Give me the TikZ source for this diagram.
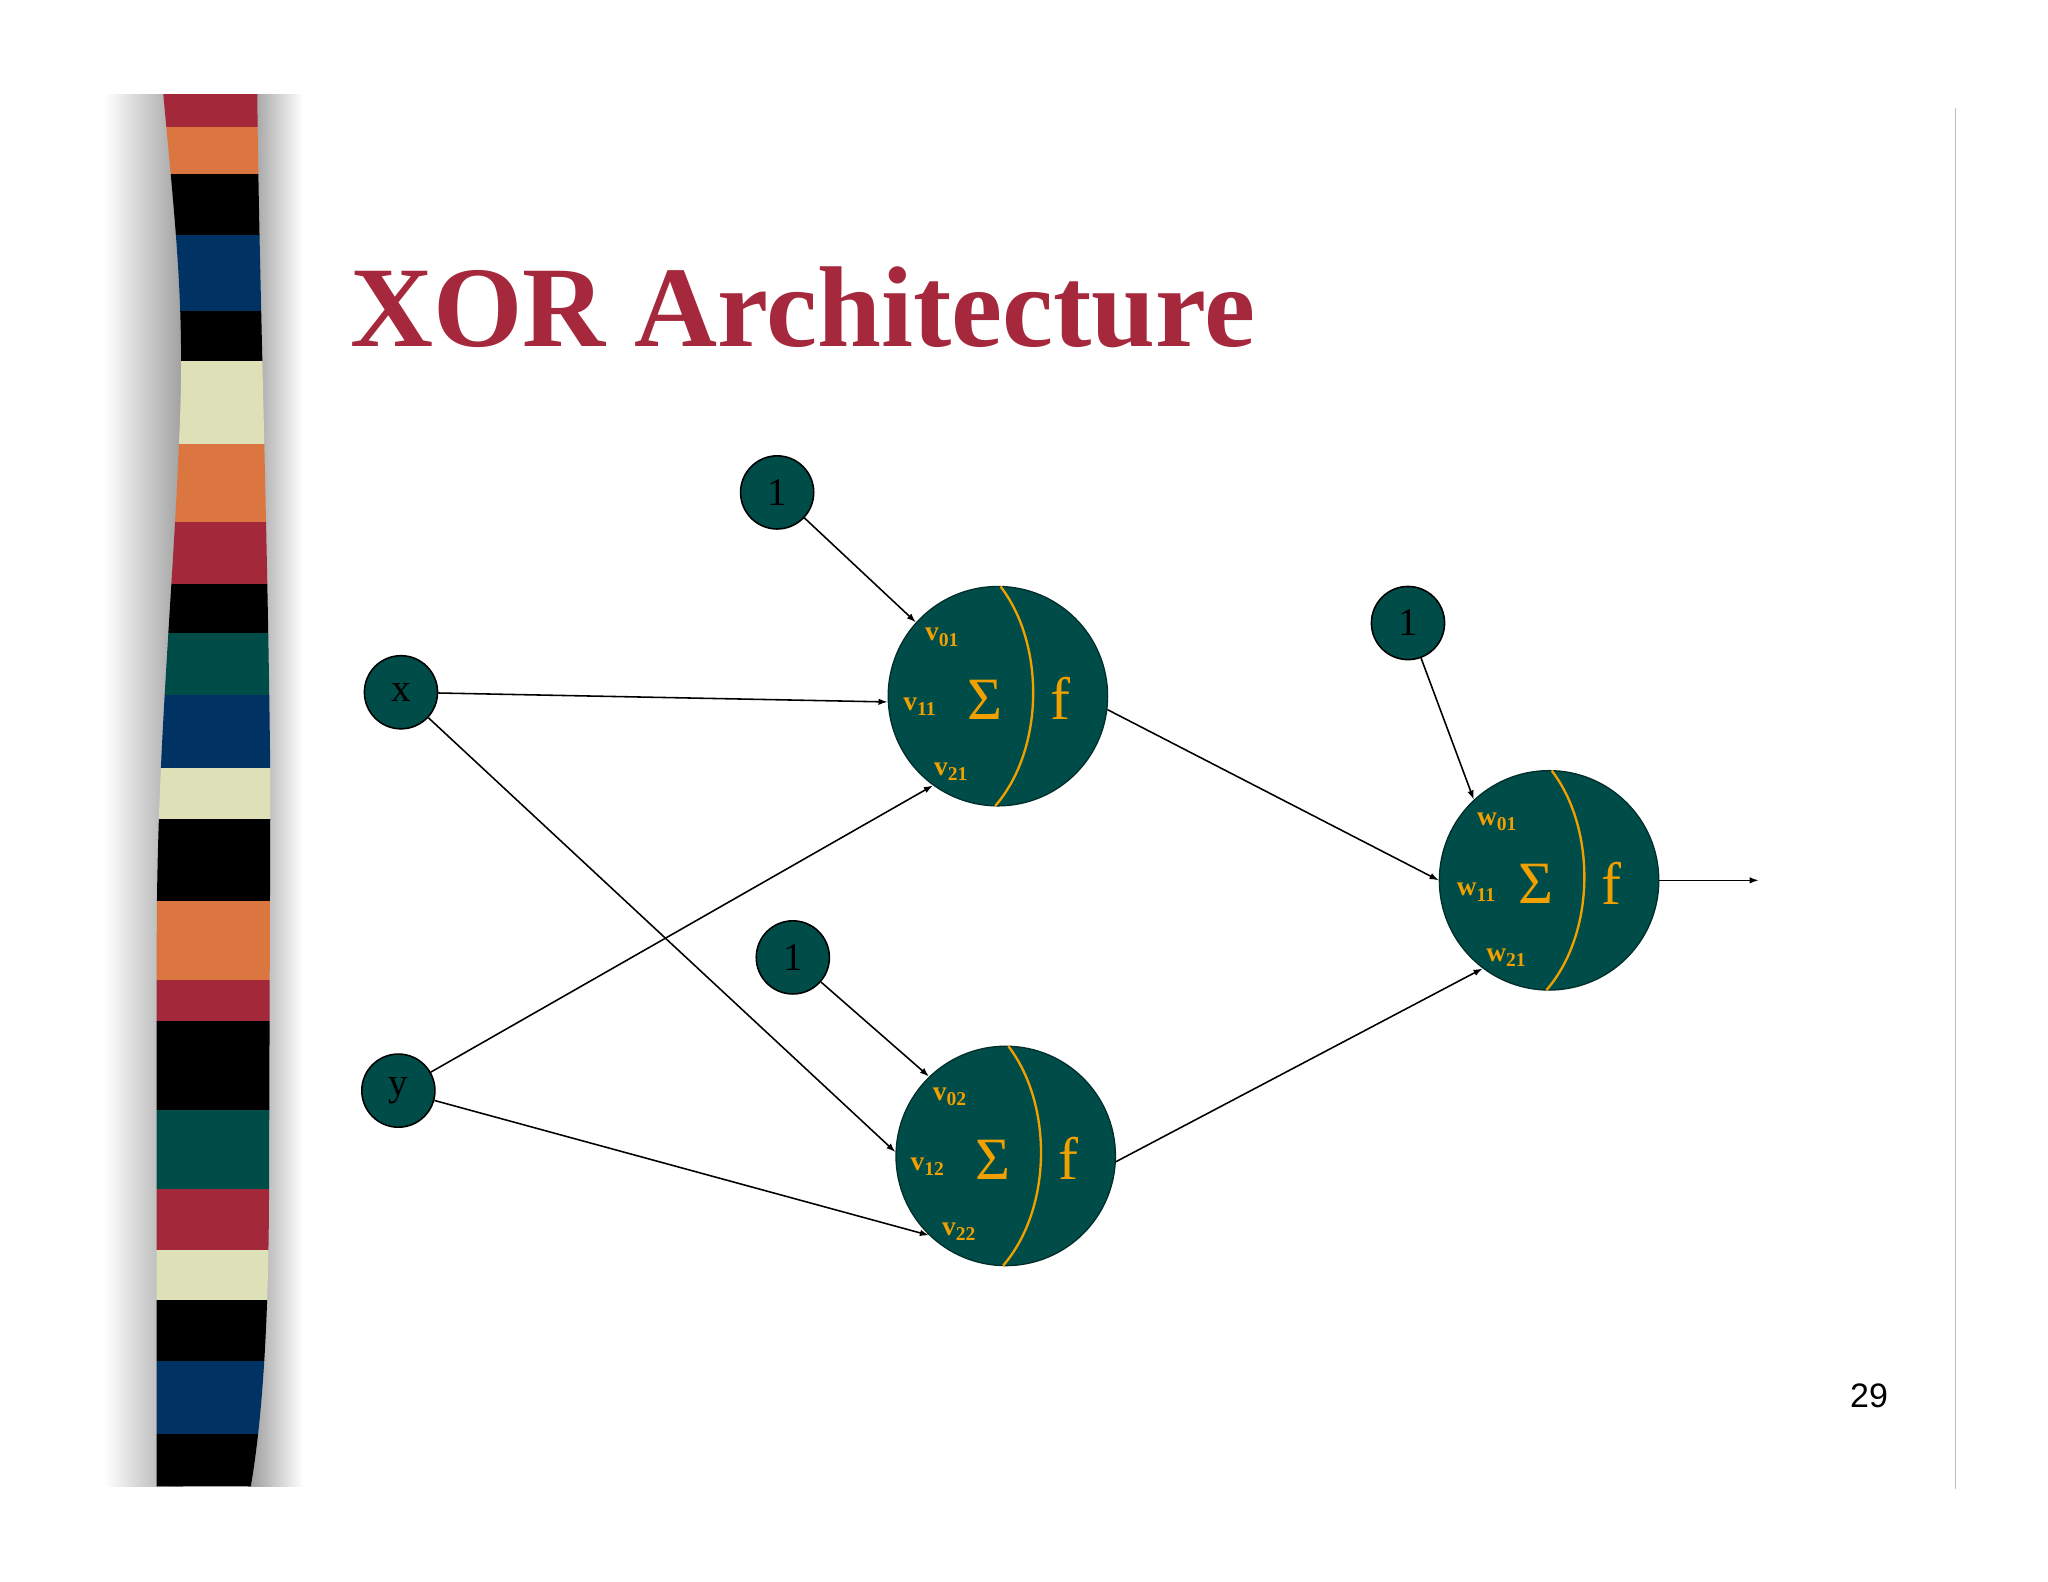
\documentclass[tikz,border=0pt]{standalone}
\usepackage{fontspec}
\setmainfont{Liberation Serif}
\newfontfamily\sansf{Liberation Sans}
\usetikzlibrary{arrows.meta}
\definecolor{teal}{RGB}{0,76,72}
\definecolor{orng}{RGB}{240,160,0}
\definecolor{ttl}{RGB}{165,40,60}
\definecolor{sred}{RGB}{163,40,58}
\definecolor{sor}{RGB}{220,118,64}
\definecolor{sbl}{RGB}{0,50,100}
\definecolor{scr}{RGB}{222,224,184}
\definecolor{stl}{RGB}{0,76,72}
\newcommand\wsub[2]{#1\raisebox{-4pt}{\fontsize{15}{15}\selectfont #2}}
\tikzset{
 small/.style={circle,draw=black,line width=1.2pt,fill=teal,minimum size=56pt,inner sep=0pt,font=\fontsize{30}{30}\selectfont},
 big/.style={circle,draw=teal!60!black,line width=1pt,fill=teal,minimum size=168pt,inner sep=0pt},
 conn/.style={-{Latex[length=7pt,width=5pt]},line width=1.2pt},
 wl/.style={text=orng,font=\bfseries\fontsize{21}{21}\selectfont,inner sep=0pt},
 sig/.style={text=orng,font=\fontsize{46}{46}\selectfont,inner sep=0pt},
}
\begin{document}
\begin{tikzpicture}[x=1pt,y=-1pt]
\useasboundingbox (0,0) rectangle (1568,1211);
\fill[white] (0,0) rectangle (1568,1211);
% shadows
\shade[left color=white,right color=gray!75] (80,72) rectangle (140,1138);
\shade[left color=gray!80,right color=white] (190,72) rectangle (232,1138);
% stripe
\begin{scope}
\clip (125,72) .. controls (135,180) and (142,240) .. (137,340) .. controls (132,460) and (120,580) .. (120,720) -- (120,1138) -- (192,1138) .. controls (202,1080) and (206,1000) .. (206,900) -- (207,600) .. controls (205,400) and (198,200) .. (197,72) -- cycle;
\foreach \a/\b/\c in {72/97/sred,97/133/sor,133/180/black,180/238/sbl,238/276/black,276/340/scr,340/400/sor,400/447/sred,447/485/black,485/532/stl,532/588/sbl,588/627/scr,627/690/black,690/750/sor,750/782/sred,782/850/black,850/910/stl,910/957/sred,957/995/scr,995/1042/black,1042/1098/sbl,1098/1140/black}
  \fill[\c] (110,\a) rectangle (215,\b);
\end{scope}
\draw[gray!50,line width=1pt] (1497,83) -- (1497,1140);
\node[anchor=base west,text=ttl,font=\bfseries\fontsize{88}{88}\selectfont,inner sep=0pt] (title) at (268,265) {XOR Architecture};
\node[font=\sansf\fontsize{26}{26}\selectfont] (pg) at (1431,1069) {29};
% small nodes
\node[small] (b1) at (595,377) {1};
\node[small] (x) at (307,530) {x};
\node[small] (y) at (305,835) {y};
\node[small] (b2) at (607,733) {1};
\node[small] (b3) at (1078,477) {1};
% neurons
\foreach \n/\cx/\cy in {n1/764/533,n2/770/885,n3/1186/674}{
  \node[big] (\n) at (\cx,\cy) {};
  \draw[orng,line width=1.8pt] ([shift={(2,-84)}]\n.center) .. controls ([shift={(36,-40)}]\n.center) and ([shift={(36,40)}]\n.center) .. ([shift={(-2,84)}]\n.center);
  \node[sig] at ([shift={(-10,3)}]\n.center) {Σ};
  \node[sig] at ([shift={(48,2)}]\n.center) {f};
}
\node[wl] at ([shift={(-43,-45)}]n1.center) {\wsub{v}{01}};
\node[wl] at ([shift={(-60,8)}]n1.center) {\wsub{v}{11}};
\node[wl] at ([shift={(-36,58)}]n1.center) {\wsub{v}{21}};
\node[wl] at ([shift={(-43,-45)}]n2.center) {\wsub{v}{02}};
\node[wl] at ([shift={(-60,8)}]n2.center) {\wsub{v}{12}};
\node[wl] at ([shift={(-36,58)}]n2.center) {\wsub{v}{22}};
\node[wl] at ([shift={(-40,-45)}]n3.center) {\wsub{w}{01}};
\node[wl] at ([shift={(-56,9)}]n3.center) {\wsub{w}{11}};
\node[wl] at ([shift={(-33,59)}]n3.center) {\wsub{w}{21}};
\coordinate (out) at ([xshift=76pt]n3.east);
% connectors
\draw[conn] (b1) -- (n1.138);
\draw[conn] (x) -- (n1.183);
\draw[conn] (y) -- (n1.234);
\draw[conn] (x) -- (n2.178);
\draw[conn] (b2) -- (n2.134);
\draw[conn] (y) -- (n2.226);
\draw[conn] (n1.-7) -- (n3.180);
\draw[conn] (n2.-3) -- (n3.233);
\draw[conn] (b3) -- (n3.133);
\draw[conn] (n3.east) -- (out);
\end{tikzpicture}
\end{document}
